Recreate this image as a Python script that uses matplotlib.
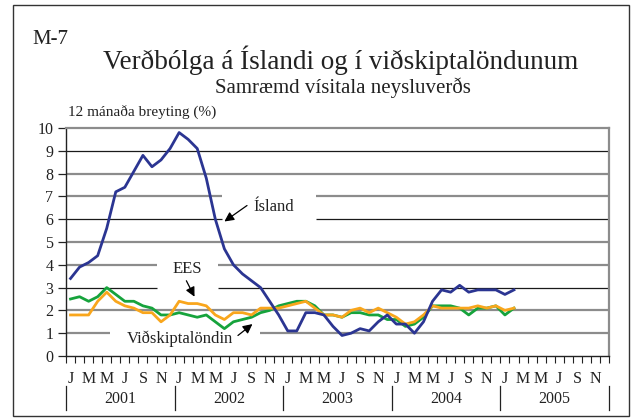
import matplotlib.pyplot as plt
from matplotlib.patches import Rectangle

plt.rcParams['font.family'] = ['Liberation Serif', 'DejaVu Serif']

# 12 month change (%), Jan 2001 - Feb 2005
island = [3.4, 3.9, 4.1, 4.4, 5.6, 7.2, 7.4, 8.1, 8.8, 8.3, 8.6, 9.1,
          9.8, 9.5, 9.1, 7.8, 6.0, 4.7, 4.0, 3.6, 3.3, 3.0, 2.4, 1.8,
          1.1, 1.1, 1.9, 1.9, 1.8, 1.3, 0.9, 1.0, 1.2, 1.1, 1.5, 1.8,
          1.4, 1.4, 1.0, 1.5, 2.4, 2.9, 2.8, 3.1, 2.8, 2.9, 2.9, 2.9,
          2.7, 2.9]
ees = [1.8, 1.8, 1.8, 2.4, 2.8, 2.4, 2.2, 2.1, 1.9, 1.9, 1.5, 1.8,
       2.4, 2.3, 2.3, 2.2, 1.8, 1.6, 1.9, 1.9, 1.8, 2.1, 2.1, 2.1,
       2.2, 2.3, 2.4, 2.1, 1.8, 1.8, 1.7, 2.0, 2.1, 1.9, 2.1, 1.9,
       1.7, 1.4, 1.5, 1.8, 2.2, 2.1, 2.1, 2.1, 2.1, 2.2, 2.1, 2.2,
       2.0, 2.1]
vidskipta = [2.5, 2.6, 2.4, 2.6, 3.0, 2.7, 2.4, 2.4, 2.2, 2.1, 1.8, 1.8,
             1.9, 1.8, 1.7, 1.8, 1.5, 1.2, 1.5, 1.6, 1.7, 1.9, 2.0, 2.2,
             2.3, 2.4, 2.4, 2.2, 1.8, 1.8, 1.7, 1.9, 1.9, 1.8, 1.8, 1.6,
             1.6, 1.3, 1.4, 1.7, 2.2, 2.2, 2.2, 2.1, 1.8, 2.1, 2.1, 2.2,
             1.8, 2.1]

month_letters = ['J', 'M', 'M', 'J', 'S', 'N']
years = ['2001', '2002', '2003', '2004', '2005']
n_months = 12 * len(years)

W, H = 638, 419
fig = plt.figure(figsize=(W / 100, H / 100), dpi=100)

# outer frame
fig.patches.append(Rectangle((13 / W, 3 / H), 616 / W, 411 / H, transform=fig.transFigure,
                             fill=False, edgecolor='#333333', lw=1.0))

ax = fig.add_axes([66 / W, 1 - 356 / H, (609 - 66) / W, (356 - 128) / H])
ax.set_xlim(0, n_months)
ax.set_ylim(0, 10)

# grid lines, some broken where the labels sit
gaps = {1: (4.9, 21.4), 3: (10.1, 16.8), 4: (10.1, 16.8), 6: (17.2, 27.6), 7: (17.2, 27.6)}
for v in range(1, 10):
    if v in (3, 6, 9):
        col, lw = '#1a1a1a', 0.9
    else:
        col, lw = '#8c8c8c', 1.6
    if v in gaps:
        a, b = gaps[v]
        ax.hlines(v, 0, a, color=col, lw=lw, zorder=1)
        ax.hlines(v, b, n_months, color=col, lw=lw, zorder=1)
    else:
        ax.hlines(v, 0, n_months, color=col, lw=lw, zorder=1)

x = [i + 0.5 for i in range(len(island))]
ax.plot(x, vidskipta, color='#16a33c', lw=2.0, zorder=3)
ax.plot(x, ees, color='#f9a61c', lw=2.0, zorder=4)
ax.plot(x, island, color='#2b3592', lw=2.0, zorder=5)

for s in ['left', 'bottom']:
    ax.spines[s].set_color('#222222')
    ax.spines[s].set_linewidth(1.0)
for s in ['top', 'right']:
    ax.spines[s].set_color('#8c8c8c')
    ax.spines[s].set_linewidth(1.6)

ax.set_yticks(range(0, 11))
ax.tick_params(axis='y', direction='out', length=6, width=0.9, pad=3,
               labelsize=11.5, colors='#222222')

ax.set_xticks([i + 0.5 for i in range(0, n_months, 2)])
ax.set_xticklabels(month_letters * len(years))
ax.set_xticks(range(0, n_months + 1), minor=True)
ax.tick_params(axis='x', which='major', length=0, pad=11, labelsize=11.5, colors='#222222')
ax.tick_params(axis='x', which='minor', direction='out', length=5, width=0.8, color='#222222')

xt = ax.get_xaxis_transform()
for k, yr in enumerate(years):
    ax.text(12 * k + 6, -0.19, yr, transform=xt, ha='center', va='center',
            fontsize=11.5, color='#222222')
for k in range(len(years) + 1):
    ax.plot([12 * k, 12 * k], [-0.13, -0.235], transform=xt, color='#222222',
            lw=0.9, clip_on=False)

# labels with arrows
arrow = dict(arrowstyle='-|>', color='black', lw=0.9, mutation_scale=14,
             shrinkA=0, shrinkB=0)
ax.annotate('', xy=(17.5, 5.9), xytext=(20.0, 6.6), arrowprops=arrow)
ax.text(20.7, 6.55, 'Ísland', ha='left', va='center', fontsize=12, color='#222222')
ax.annotate('', xy=(14.2, 2.6), xytext=(13.3, 3.3), arrowprops=arrow)
ax.text(13.4, 3.8, 'EES', ha='center', va='center', fontsize=12, color='#222222')
ax.annotate('', xy=(20.6, 1.4), xytext=(19.0, 0.9), arrowprops=arrow)
ax.text(12.6, 0.75, 'Viðskiptalöndin', ha='center', va='center', fontsize=12, color='#222222')

fig.text(32 / W, 1 - 40 / H, 'M-7', ha='left', va='center', fontsize=15, color='#222222')
fig.text(341 / W, 1 - 60 / H, 'Verðbólga á Íslandi og í viðskiptalöndunum',
         ha='center', va='center', fontsize=19.5, color='#222222')
fig.text(343 / W, 1 - 88 / H, 'Samræmd vísitala neysluverðs',
         ha='center', va='center', fontsize=15, color='#222222')
fig.text(68 / W, 1 - 113 / H, '12 mánaða breyting (%)',
         ha='left', va='center', fontsize=11, color='#222222')

fig.savefig('out.png', dpi=100)
